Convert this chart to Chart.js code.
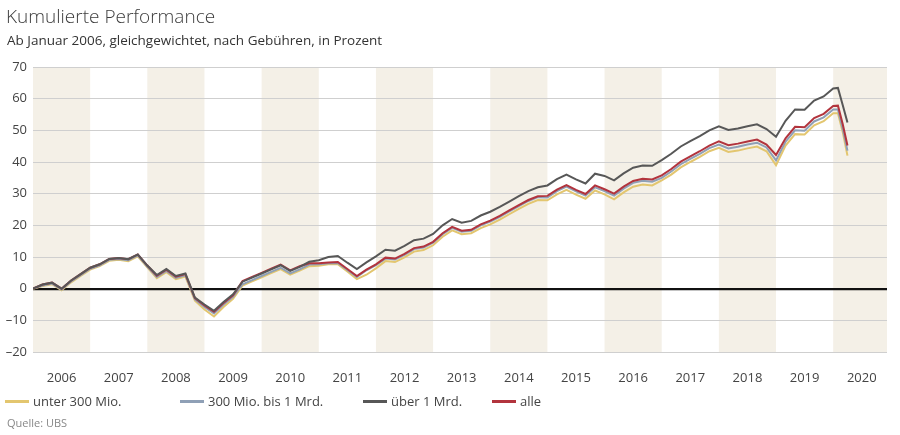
<!DOCTYPE html>
<html>
<head>
	<title>Kumulierte Performance</title>
	<script src="https://cdn.jsdelivr.net/npm/chart.js"></script>
	<style>
		body { margin: 0; background: #fff; font-family: 'Open Sans', 'Noto Sans', sans-serif; }
		#wrap { position: relative; width: 900px; height: 435px; }
		canvas { position: absolute; left: 0; top: 0; }
		.title { position: absolute; left: 6px; top: 3px; font-size: 19px; color: #3c3c3c; font-weight: 300; }
		.sub { position: absolute; left: 7px; top: 31px; font-size: 13.5px; color: #333; }
		.leg { position: absolute; top: 392px; font-size: 13px; color: #444; white-space: nowrap; }
		.leg span { display: inline-block; width: 24px; height: 3px; vertical-align: middle; margin-right: 4px; margin-top: -2px; }
		.src { position: absolute; left: 7px; top: 415px; font-size: 11px; color: #888; }
	</style>
</head>
<body>
<div id="wrap">
	<canvas id="chart" width="900" height="435"></canvas>
	<div class="title">Kumulierte Performance</div>
	<div class="sub">Ab Januar 2006, gleichgewichtet, nach Gebühren, in Prozent</div>
	<div id="legend"></div>
	<div class="src">Quelle: UBS</div>
</div>
<script>
	// months since January 2006
	var months = [0,2,4,6,8,10,12,14,16,18,20,22,24,26,28,30,32,34,36,38,40,42,44,46,48,50,52,54,56,58,
		60,62,64,66,68,70,72,74,76,78,80,82,84,86,88,90,92,94,96,98,100,102,104,106,108,110,112,114,116,118,
		120,122,124,126,128,130,132,134,136,138,140,142,144,146,148,150,152,154,156,158,160,162,164,166,168,169,170,171];

	var years = [2006,2007,2008,2009,2010,2011,2012,2013,2014,2015,2016,2017,2018,2019,2020];

	var ueber1Mrd = [0,1.3,1.9,0.0,2.6,4.6,6.6,7.7,9.4,9.7,9.3,10.8,7.3,4.3,6.2,4.0,4.8,-2.8,-5.0,-7.0,-4.2,-1.8,2.2,3.5,4.8,6.1,7.4,5.6,6.9,8.5,
		9.0,10.0,10.3,8.2,6.2,8.3,10.2,12.3,12.0,13.5,15.3,15.8,17.3,20.0,22.0,20.8,21.4,23.1,24.3,25.8,27.5,29.2,30.8,32.0,32.6,34.6,36.0,34.5,33.2,36.3,
		35.6,34.2,36.4,38.2,38.9,38.8,40.6,42.6,44.9,46.6,48.2,50.0,51.3,50.1,50.6,51.3,51.9,50.4,48.0,53.0,56.6,56.5,59.4,60.7,63.2,63.4,58.0,52.5];

	var alle = [0,1.3,1.9,0.0,2.6,4.6,6.6,7.7,9.4,9.7,9.3,10.8,7.3,4.1,6.0,3.8,4.6,-3.0,-5.3,-7.3,-4.5,-2.1,2.4,3.7,5.0,6.3,7.6,5.8,7.1,8.0,
		8.0,8.3,8.4,6.2,4.0,6.0,7.7,9.8,9.5,11.0,12.8,13.3,14.8,17.5,19.5,18.3,18.6,20.3,21.5,23.0,24.7,26.4,28.0,29.2,29.3,31.3,32.7,31.2,29.9,32.6,
		31.4,30.0,32.2,34.0,34.7,34.5,35.8,37.8,40.1,41.8,43.4,45.2,46.5,45.3,45.8,46.5,47.1,45.5,42.2,47.5,51.1,51.0,53.9,55.2,57.7,57.8,52.0,45.2];

	var mio300bis1Mrd = [0,1.0,1.6,-0.3,2.3,4.3,6.3,7.4,9.1,9.4,9.0,10.5,7.0,3.7,5.6,3.4,4.2,-3.4,-5.8,-7.8,-5.0,-2.6,1.4,2.7,4.0,5.3,6.6,4.8,6.1,7.6,
		7.7,8.0,8.1,5.9,3.7,5.8,7.4,9.5,9.2,10.7,12.5,13.0,14.5,17.2,19.2,18.0,18.3,20.0,21.2,22.7,24.4,26.1,27.7,28.9,28.8,30.8,32.2,30.7,29.4,32.0,
		30.8,29.4,31.6,33.4,34.1,33.8,35.0,37.0,39.3,41.0,42.6,44.4,45.5,44.3,44.8,45.5,46.1,44.6,40.5,46.4,50.0,49.9,52.8,54.1,56.6,56.6,50.5,43.6];

	var unter300Mio = [0,0.8,1.4,-0.5,2.0,4.0,6.0,7.1,8.8,9.1,8.7,10.2,6.7,3.3,5.2,3.0,3.8,-3.8,-6.6,-8.8,-5.8,-3.2,1.0,2.3,3.6,4.9,6.2,4.4,5.7,7.1,
		7.2,7.7,7.7,5.4,3.0,4.4,6.4,8.7,8.4,9.9,11.7,12.2,13.7,16.4,18.4,17.2,17.5,19.1,20.3,21.8,23.5,25.2,26.8,28.0,27.9,29.8,31.2,29.7,28.4,31.0,
		29.8,28.2,30.4,32.2,32.9,32.6,34.2,36.0,38.3,40.0,41.6,43.4,44.5,43.2,43.6,44.3,44.9,43.4,39.0,45.2,48.8,48.7,51.6,52.9,55.4,55.4,49.5,42.0];

	var series = [
		{ label: 'über 1 Mrd.', data: ueber1Mrd, color: '#575757', legendX: 363 },
		{ label: 'alle', data: alle, color: '#b2343d', legendX: 492 },
		{ label: '300 Mio. bis 1 Mrd.', data: mio300bis1Mrd, color: '#8fa0b6', legendX: 180 },
		{ label: 'unter 300 Mio.', data: unter300Mio, color: '#e3c66f', legendX: 5 }
	];

	function toPoints(values) {
		return values.map(function(v, i) { return { x: months[i], y: v }; });
	}

	var bandPlugin = {
		id: 'bands',
		beforeDraw: function(chart) {
			var ctx = chart.ctx, xs = chart.scales.x, area = chart.chartArea;
			ctx.save();
			ctx.fillStyle = '#f4f0e7';
			for (var i = 0; i < years.length; i += 2) {
				var a = xs.getPixelForValue(i * 12);
				var b = Math.min(xs.getPixelForValue((i + 1) * 12), area.right);
				ctx.fillRect(a, area.top, b - a, area.bottom - area.top);
			}
			ctx.restore();
		}
	};

	var ctx = document.getElementById('chart').getContext('2d');
	var myChart = new Chart(ctx, {
		type: 'line',
		data: {
			datasets: series.map(function(s) {
				return {
					label: s.label,
					data: toPoints(s.data),
					borderColor: s.color,
					backgroundColor: s.color,
					borderWidth: 2,
					pointRadius: 0,
					tension: 0
				};
			})
		},
		options: {
			responsive: false,
			animation: false,
			layout: { padding: { left: 0, right: 13, top: 67, bottom: 53 } },
			plugins: { legend: { display: false }, tooltip: { enabled: false } },
			scales: {
				x: {
					type: 'linear',
					min: 0,
					max: 179.3,
					grid: { display: false },
					border: { display: false },
					afterBuildTicks: function(scale) {
						scale.ticks = years.map(function(y, i) { return { value: i * 12 + 6 }; });
					},
					afterFit: function(scale) { scale.height = 30; },
					ticks: {
						autoSkip: false,
						maxRotation: 0,
						padding: 10,
						color: '#444',
						font: { family: "'Open Sans', 'Noto Sans', sans-serif", size: 13 },
						callback: function(v) { return String(years[Math.floor(v / 12)]); }
					}
				},
				y: {
					min: -20,
					max: 70,
					afterFit: function(scale) { scale.width = 33; },
					border: { display: false },
					grid: {
						drawTicks: false,
						color: function(c) { return c.tick.value === 0 ? '#111' : '#cfcfcf'; },
						lineWidth: function(c) { return c.tick.value === 0 ? 2.2 : 1; }
					},
					ticks: {
						stepSize: 10,
						padding: 6,
						color: '#444',
						font: { family: "'Open Sans', 'Noto Sans', sans-serif", size: 13 },
						callback: function(v) { return v < 0 ? '\u2013' + Math.abs(v) : String(v); }
					}
				}
			}
		},
		plugins: [bandPlugin]
	});

	var legend = document.getElementById('legend');
	series.forEach(function(s) {
		var d = document.createElement('div');
		d.className = 'leg';
		d.style.left = s.legendX + 'px';
		d.innerHTML = '<span style="background:' + s.color + '"></span>' + s.label;
		legend.appendChild(d);
	});
</script>
</body>
</html>
